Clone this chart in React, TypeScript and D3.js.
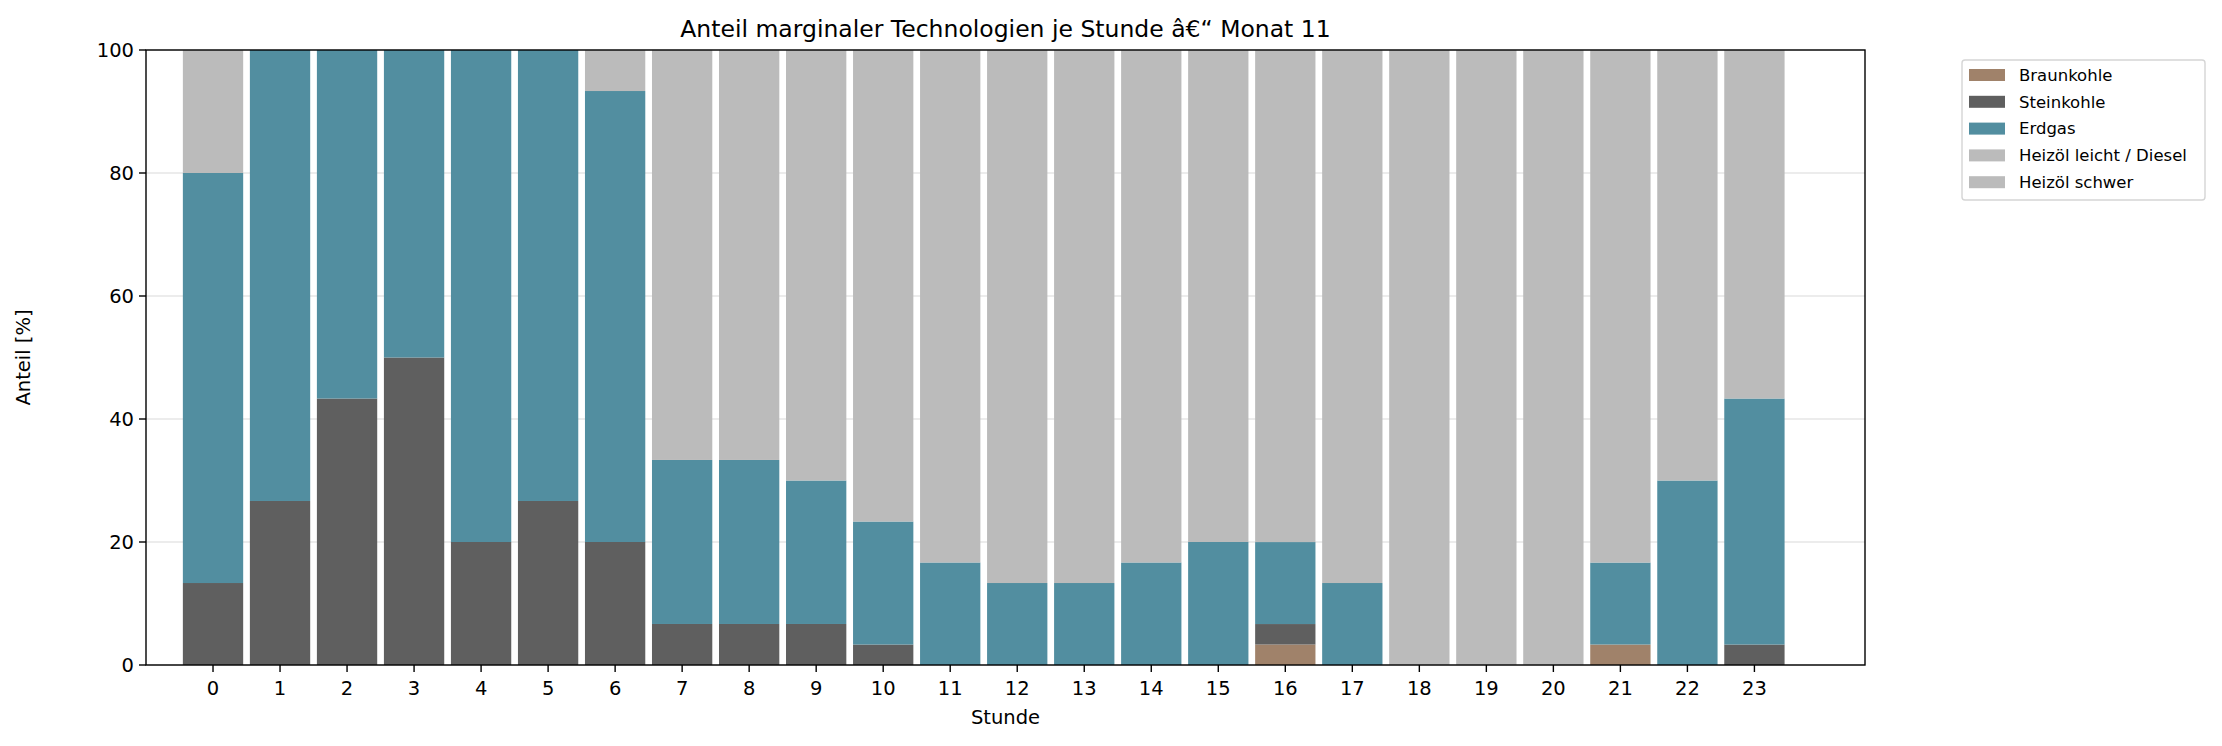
import React from "react";
import * as d3 from "d3";

const hours = d3.range(24);
const series = ["Braunkohle", "Steinkohle", "Erdgas", "Heizöl leicht / Diesel", "Heizöl schwer"];
const colors = ["#A0826A", "#5F5F5F", "#528EA0", "#BBBBBB", "#BBBBBB"];
const braun = [0,0,0,0,0,0,0,0,0,0,0,0,0,0,0,0,3.33,0,0,0,0,3.33,0,0];
const stein = [13.33,26.67,43.33,50,20,26.67,20,6.67,6.67,6.67,3.33,0,0,0,0,0,3.33,0,0,0,0,0,0,3.33];
const erdgas = [66.67,73.33,56.67,50,80,73.33,73.33,26.67,26.67,23.33,20,16.67,13.33,13.33,16.67,20,13.33,13.33,0,0,0,13.33,30,40];
const leicht = [20,0,0,0,0,0,6.67,66.67,66.67,70,76.67,83.33,86.67,86.67,83.33,80,80,86.67,100,100,100,83.33,70,56.67];
const schwer = hours.map(() => 0);
const yTicks = [0, 20, 40, 60, 80, 100];

export default function App() {
  const W = 2222, H = 746;
  const L = 146, R = 1865, T = 50, B = 665;
  const x = d3.scaleLinear().domain([-1.0, 24.65]).range([L, R]);
  const y = d3.scaleLinear().domain([0, 100]).range([B, T]);
  const bw = x(0.9) - x(0);
  const rows = hours.map((h) => ({ h, Braunkohle: braun[h], Steinkohle: stein[h], Erdgas: erdgas[h], "Heizöl leicht / Diesel": leicht[h], "Heizöl schwer": schwer[h] }));
  const stack = d3.stack<any>().keys(series)(rows);
  const font = "DejaVu Sans";
  return (
    <svg width={W} height={H} style={{ position: "absolute", left: 0, top: 0 }} fontFamily={font}>
      <rect width={W} height={H} fill="#fff" />
      {yTicks.map((t) => (
        <line key={t} x1={L} x2={R} y1={y(t)} y2={y(t)} stroke="#e6e6e6" strokeWidth={1.4} />
      ))}
      {stack.map((s, i) =>
        s.map((d, j) => (
          d[1] - d[0] > 0 ? <rect key={i + "-" + j} x={x(j) - bw / 2} width={bw} y={y(d[1])} height={y(d[0]) - y(d[1])} fill={colors[i]} /> : null
        ))
      )}
      <rect x={L} y={T} width={R - L} height={B - T} fill="none" stroke="#000" strokeWidth={1.4} />
      {yTicks.map((t) => (
        <g key={t}>
          <line x1={L - 7} x2={L} y1={y(t)} y2={y(t)} stroke="#000" strokeWidth={1.4} />
          <text x={L - 12} y={y(t)} dy="0.35em" textAnchor="end" fontSize={19.5}>{t}</text>
        </g>
      ))}
      {hours.map((h) => (
        <g key={h}>
          <line x1={x(h)} x2={x(h)} y1={B} y2={B + 7} stroke="#000" strokeWidth={1.4} />
          <text x={x(h)} y={B + 30} textAnchor="middle" fontSize={19.5}>{h}</text>
        </g>
      ))}
      <text x={(L + R) / 2} y={724} textAnchor="middle" fontSize={19.5}>Stunde</text>
      <text transform={`translate(30,${(T + B) / 2}) rotate(-90)`} textAnchor="middle" fontSize={19.5}>Anteil [%]</text>
      <text x={(L + R) / 2} y={37} textAnchor="middle" fontSize={23.5}>Anteil marginaler Technologien je Stunde â€“ Monat 11</text>
      <rect x={1962} y={60} width={243} height={140} rx={3} fill="#fff" stroke="#d5d5d5" strokeWidth={1.4} />
      {series.map((s, i) => (
        <g key={s}>
          <rect x={1969} y={69 + i * 26.8} width={36} height={12} fill={colors[i]} />
          <text x={2019} y={75 + i * 26.8} dy="0.35em" fontSize={16.5}>{s}</text>
        </g>
      ))}
    </svg>
  );
}
